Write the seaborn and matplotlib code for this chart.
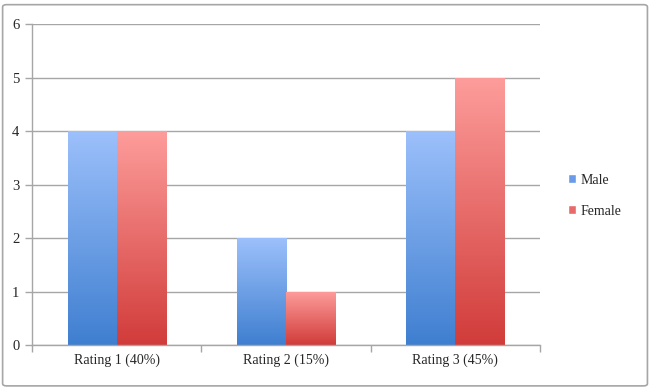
import numpy as np
import pandas as pd
import seaborn as sns
import matplotlib.pyplot as plt
from matplotlib.patches import Patch, FancyBboxPatch
from matplotlib.colors import LinearSegmentedColormap

categories = ["Rating 1 (40%)", "Rating 2 (15%)", "Rating 3 (45%)"]
male = [4, 2, 4]
female = [4, 1, 5]
series = ["Male", "Female"]

df = pd.DataFrame({
    "Rating": categories * 2,
    "Gender": ["Male"] * 3 + ["Female"] * 3,
    "Count": male + female,
})

sns.set_style("white")
plt.rcParams["font.family"] = ["Liberation Serif", "DejaVu Serif"]

fig = plt.figure(figsize=(6.52, 3.89), dpi=100)
ax = fig.add_axes([0.049, 0.113, 0.779, 0.825])

ax = sns.barplot(data=df, x="Rating", y="Count", hue="Gender", hue_order=series,
                 palette=["#6a9be8", "#e86a6a"], width=0.58, gap=0, ax=ax,
                 legend=False, errorbar=None)

# gradient fill for each bar (light on top, darker at bottom)
grads = {
    "Male": LinearSegmentedColormap.from_list("m", ["#3f7fd0", "#9cc0fb"]),
    "Female": LinearSegmentedColormap.from_list("f", ["#d13c3a", "#fd9d9b"]),
}
grad = np.linspace(0, 1, 256).reshape(-1, 1)
for cont, name in zip(ax.containers, series):
    for bar in cont:
        x0, y0 = bar.get_x(), bar.get_y()
        w, h = bar.get_width(), bar.get_height()
        bar.set_facecolor("none")
        bar.set_edgecolor("none")
        im = ax.imshow(grad, extent=[x0, x0 + w, y0, y0 + h], origin="lower",
                       cmap=grads[name], aspect="auto", zorder=2)
        im.set_clip_path(bar)

ax.set_xlim(-0.5, 2.5)
ax.set_ylim(0, 6)
ax.set_yticks(range(0, 7))
ax.yaxis.grid(True, color="#a6a6a6", linewidth=1)
ax.set_axisbelow(True)

ax.set_xticks([-0.5, 0.5, 1.5, 2.5])
ax.set_xticklabels([])
ax.set_xticks([0, 1, 2], minor=True)
ax.set_xticklabels(categories, minor=True, fontsize=10)
ax.tick_params(axis="x", which="major", length=5, color="#a6a6a6", width=1, direction="out", bottom=True)
ax.tick_params(axis="x", which="minor", length=0, pad=6)
ax.tick_params(axis="y", length=5, color="#a6a6a6", width=1, direction="out", left=True, labelsize=10.5, pad=4)
ax.set_xlabel("")
ax.set_ylabel("")

for s in ["top", "right"]:
    ax.spines[s].set_visible(False)
for s in ["left", "bottom"]:
    ax.spines[s].set_color("#a6a6a6")
    ax.spines[s].set_linewidth(1)

handles = [Patch(facecolor="#6a9be8"), Patch(facecolor="#e86a6a")]
fig.legend(handles, series, loc="center left", bbox_to_anchor=(0.852, 0.497),
           frameon=False, fontsize=10, handlelength=0.6, handleheight=0.6,
           handletextpad=0.3, labelspacing=1.3)

border = FancyBboxPatch((0.004, 0.008), 0.989, 0.98, boxstyle="round,pad=0,rounding_size=0.006",
                        transform=fig.transFigure, facecolor="none", edgecolor="#a6a6a6",
                        linewidth=1.2)
fig.patches.append(border)

fig.savefig("out.png", dpi=100)
